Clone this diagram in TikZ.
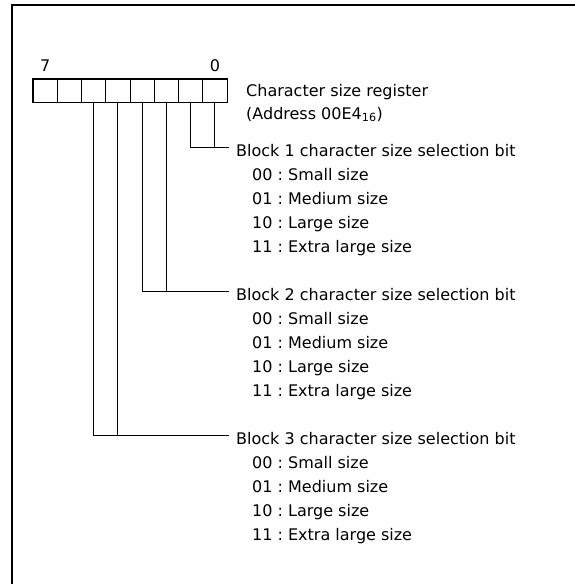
\documentclass[tikz,border=0pt]{standalone}
\usepackage{fontspec}
\setmainfont{DejaVu Sans}
\tikzset{
  bitcell/.style={draw, line width=0.9pt, minimum width=24.25pt, minimum height=23pt, inner sep=0pt},
  txt/.style={anchor=base west, inner sep=0pt},
  wire/.style={line width=1pt}
}
\begin{document}
\begin{tikzpicture}[x=1pt, y=-1pt, font=\fontsize{16}{24}\selectfont]
      \useasboundingbox (0,0) rectangle (574,584);
      \draw[line width=1.8pt] (12,585) -- (12,5) -- (575,5);
      % register cells, bit 7 on the left
      \node[bitcell] (bit7) at (45.1,90.5){};
      \node[bitcell] (bit6) at (69.4,90.5){};
      \node[bitcell] (bit5) at (93.6,90.5){};
      \node[bitcell] (bit4) at (117.9,90.5){};
      \node[bitcell] (bit3) at (142.1,90.5){};
      \node[bitcell] (bit2) at (166.4,90.5){};
      \node[bitcell] (bit1) at (190.6,90.5){};
      \node[bitcell] (bit0) at (214.9,90.5){};
      \draw[line width=1.8pt] (bit7.north west) rectangle (bit0.south east);
      \node[anchor=base, inner sep=0pt] (msb) at (45.1,71) {7};
      \node[anchor=base, inner sep=0pt] (lsb) at (214.9,71) {0};
      \node[txt] (title) at (246,96) {Character size register};
      \node[txt] (addr) at (246,119) {(Address 00E4\textsubscript{16})};
      % block 1
      \node[txt] (blk1) at (236,156) {Block 1 character size selection bit};
      \node[txt] (blk1a) at (252,180) {00 :\ Small size};
      \node[txt] (blk1b) at (252,204) {01 :\ Medium size};
      \node[txt] (blk1c) at (252,228) {10 :\ Large size};
      \node[txt] (blk1d) at (252,252) {11 :\ Extra large size};
      \coordinate (end1) at (229,147);
      \draw[wire](bit1.south) |- (end1);
      \draw[wire](bit0.south) -- (bit0.south |- end1);
      \begin{scope}[shift={(0,144)}]
        % block 2
        \node[txt] (blk2) at (236,156) {Block 2 character size selection bit};
        \node[txt] (blk2a) at (252,180) {00 :\ Small size};
        \node[txt] (blk2b) at (252,204) {01 :\ Medium size};
        \node[txt] (blk2c) at (252,228) {10 :\ Large size};
        \node[txt] (blk2d) at (252,252) {11 :\ Extra large size};
        \coordinate (end2) at (229,147);
        \begin{scope}[shift={(0,144)}]
          % block 3
          \node[txt] (blk3) at (236,156) {Block 3 character size selection bit};
          \node[txt] (blk3a) at (252,180) {00 :\ Small size};
          \node[txt] (blk3b) at (252,204) {01 :\ Medium size};
          \node[txt] (blk3c) at (252,228) {10 :\ Large size};
          \node[txt] (blk3d) at (252,252) {11 :\ Extra large size};
          \coordinate (end3) at (229,147);
        \end{scope}
      \end{scope}
      \draw[wire](bit3.south) |- (end2);
      \draw[wire](bit2.south) -- (bit2.south |- end2);
      \draw[wire](bit5.south) |- (end3);
      \draw[wire](bit4.south) -- (bit4.south |- end3);
    \end{tikzpicture}
\end{document}
